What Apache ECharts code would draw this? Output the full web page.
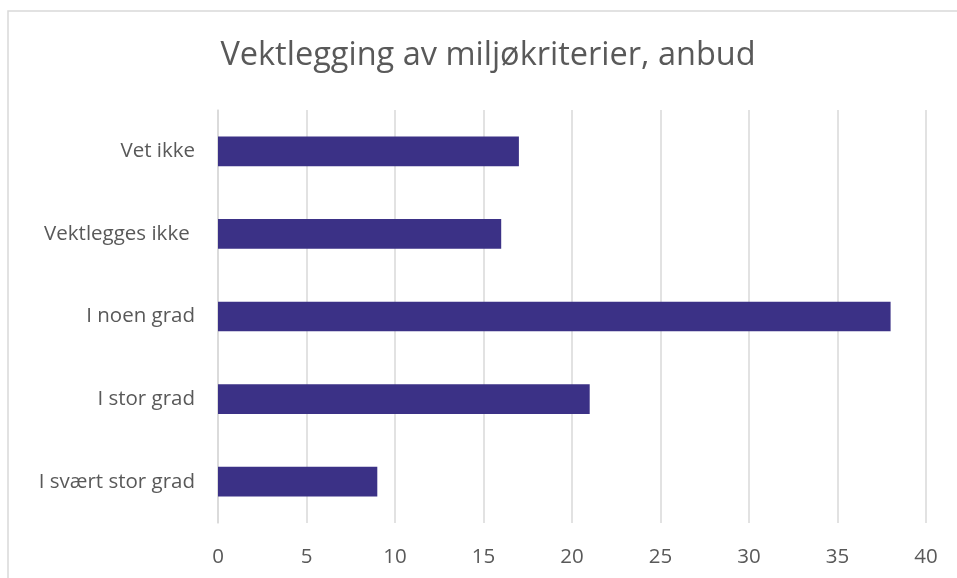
<!DOCTYPE html>
<html style="height: 100%">
  <head>
    <meta charset="utf-8" />
  </head>
  <body style="height: 100%; margin: 0; background: #fff">
    <div id="container" style="width: 957px; height: 578px"></div>
    <script src="https://cdn.jsdelivr.net/npm/echarts@6/dist/echarts.min.js"></script>
    <script type="text/javascript">
      var categories = ['Vet ikke', 'Vektlegges ikke ', 'I noen grad', 'I stor grad', 'I svært stor grad'];
      var values = [17, 16, 38, 21, 9];
      var xTicks = [0, 5, 10, 15, 20, 25, 30, 35, 40];

      var myChart = echarts.init(document.getElementById('container'));
      var font = 'Open Sans, Liberation Sans, sans-serif';

      var option = {
        animation: false,
        title: {
          text: 'Vektlegging av miljøkriterier, anbud',
          left: 483,
          textAlign: 'center',
          top: 34,
          textStyle: { fontFamily: font, fontSize: 32.5, fontWeight: 'normal', color: '#595959' }
        },
        graphic: [{
          type: 'rect',
          shape: { x: 8, y: 11, width: 1000, height: 600 },
          style: { fill: 'none', stroke: '#d9d9d9', lineWidth: 1.5 },
          silent: true
        }],
        grid: { left: 218, right: 957 - 926, top: 110, bottom: 578 - 523 },
        xAxis: {
          type: 'value',
          min: 0,
          max: xTicks[xTicks.length - 1],
          interval: 5,
          axisLine: { show: false },
          axisTick: { show: false },
          splitLine: { lineStyle: { color: '#d9d9d9', width: 1.5 } },
          axisLabel: { margin: 24, fontFamily: font, fontSize: 20.5, color: '#595959' }
        },
        yAxis: {
          type: 'category',
          inverse: true,
          data: categories,
          axisLine: { lineStyle: { color: '#d9d9d9', width: 1.5 } },
          axisTick: { show: false },
          axisLabel: { margin: 23, fontFamily: font, fontSize: 20.5, color: '#595959' }
        },
        series: [{
          type: 'bar',
          data: values,
          barWidth: '36%',
          itemStyle: { color: '#3b3186' }
        }]
      };
      myChart.setOption(option);
    </script>
  </body>
</html>
